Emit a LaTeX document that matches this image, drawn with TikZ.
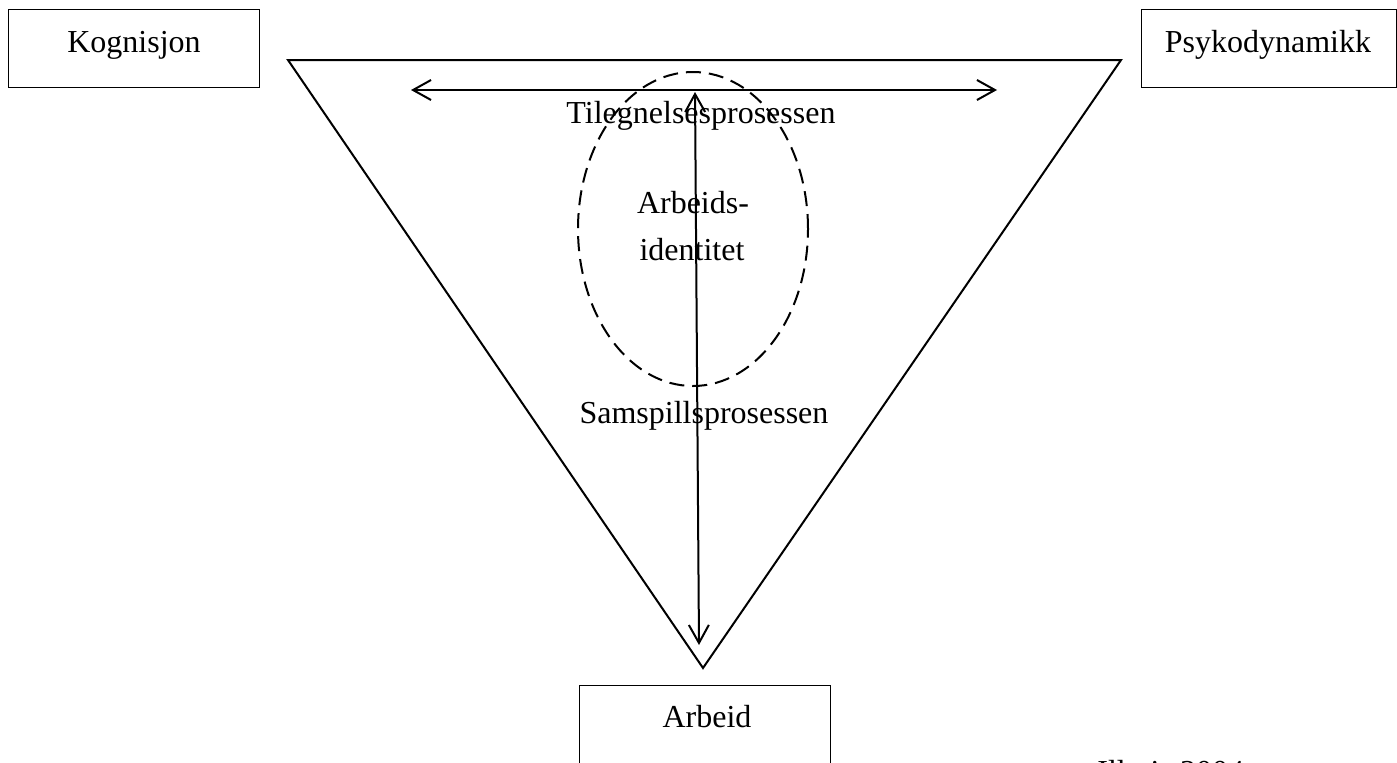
\documentclass[tikz,border=0pt]{standalone}
\usepackage{fontspec}
\setmainfont{Liberation Serif}
\usetikzlibrary{arrows.meta,shapes.geometric}
\begin{document}
\begin{tikzpicture}[x=0.5pt,y=-0.5pt,
  every node/.style={font=\fontsize{16}{19}\selectfont, inner sep=0pt},
  box/.style={draw, line width=0.7pt, minimum width=125.5pt, minimum height=39pt, anchor=north west},
  lbl/.style={anchor=base},
  conn/.style={line width=1pt, {Straight Barb[length=9pt,width=10pt,line width=1pt]}-{Straight Barb[length=9pt,width=10pt,line width=1pt]}},
  tri/.style={line width=1pt, line join=miter},
  idell/.style={ellipse, draw, line width=1pt, dash pattern=on 7.5pt off 4pt, minimum width=115pt, minimum height=157pt}]
\useasboundingbox (0,0) rectangle (1397,762);
\clip (0,0) rectangle (1397,762);
% boxes
\node[box] (kogbox) at (8,9) {};
\node[box, minimum width=127.5pt] (psybox) at (1141,9) {};
\node[box] (arbbox) at (579,685) {};
\node[lbl] (kog) at (134,52) {Kognisjon};
\node[lbl] (psy) at (1268,52) {Psykodynamikk};
\node[lbl] (arb) at (707,727) {Arbeid};
% triangle
\coordinate (tl) at (288,60);
\coordinate (tr) at (1121,60);
\coordinate (tb) at (703,668);
\draw[tri] (tl) -- (tr) -- (tb) -- cycle;
% ellipse
\node[idell] (id) at (693,229) {};
% arrows
\coordinate (hl) at (411,90);
\coordinate (hr) at (997,90);
\draw[conn] (hl) -- (hr);
\coordinate (vt) at (695,92);
\coordinate (vb) at (699,645);
\draw[conn] (vt) -- (vb);
% labels
\node[lbl] (tileg) at (701,123) {Tilegnelsesprosessen};
\node[lbl] (arbid1) at (693,213) {Arbeids-};
\node[lbl] (arbid2) at (692,260) {identitet};
\node[lbl] (samsp) at (704,423) {Samspillsprosessen};
\node[anchor=base west] (src) at (1097,782) {Illeris 2004, s.};
\end{tikzpicture}
\end{document}
